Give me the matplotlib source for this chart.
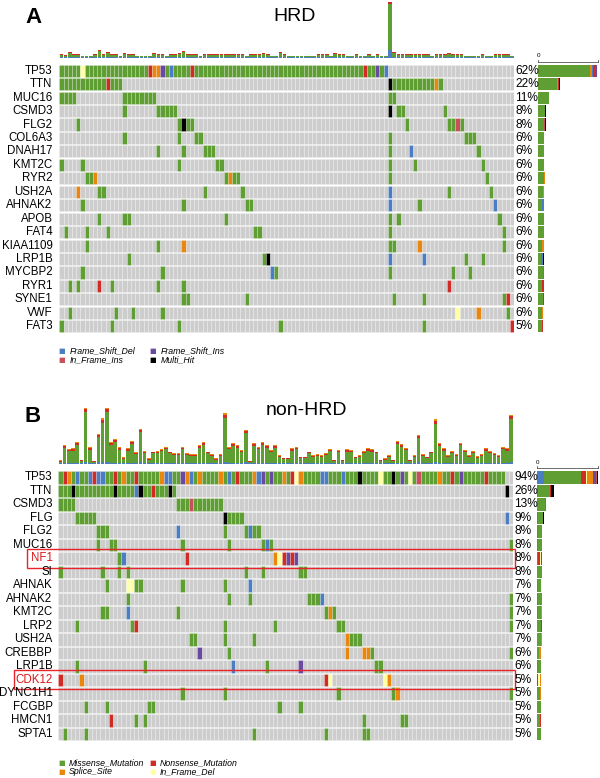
import matplotlib
matplotlib.use('Agg')
import matplotlib.pyplot as plt
import matplotlib.patches as mpatches
import numpy as np

plt.rcParams['font.family'] = ['Liberation Sans', 'DejaVu Sans']

# ---------------- DATA ----------------
# mutation codes: M Missense, N Nonsense, S Splice_Site, D In_Frame_Del,
# I In_Frame_Ins, F Frame_Shift_Del, P Frame_Shift_Ins, X Multi_Hit
n_cols_a = 108
genes_a = ["TP53", "TTN", "MUC16", "CSMD3", "FLG2", "COL6A3", "DNAH17", "KMT2C",
           "RYR2", "USH2A", "AHNAK2", "APOB", "FAT4", "KIAA1109", "LRP1B",
           "MYCBP2", "RYR1", "SYNE1", "VWF", "FAT3"]
pct_a = ["62%", "22%", "11%", "8%", "8%", "6%", "6%", "6%", "6%", "6%", "6%",
         "6%", "6%", "6%", "6%", "6%", "6%", "6%", "6%", "5%"]
rows_a = [
    "0-77M 5D 21N 22-23S 24P 26F 31N 72N 75P 77F",
    "0-14M 11N 78X 79-88M 89S 90M",
    "0-3M 15-22M 78-79M",
    "15M 23-27M 78X 80-81M 91M",
    "4M 28M 29X 30-31M 82M 92-93M 94I 95M",
    "15M 28M 32-33M 78M 96-98M",
    "23M 29M 34-36M 78M 83F 99M",
    "0M 5M 28M 37-38M 78M 84M 100M",
    "6-7M 8S 39M 40S 41-42M 78M 101M",
    "4S 9-10M 34M 43M 78F 92M 102M",
    "5M 29M 44-45M 78F 85M 103F",
    "9M 15-16M 39M 78M 80M 104M",
    "1M 6M 11M 46-47M 78M 105M",
    "6M 23M 29S 78-79M 85S 105M",
    "16M 48M 49X 78F 86F 96M 100M",
    "5M 24M 50F 51M 78M 93M 97M",
    "2M 4M 9N 12M 23M 29M 92N",
    "29-30M 44M 79M 86M 105M 106N",
    "2M 13M 17M 24M 94D 99S 106M",
    "0M 12M 28M 52M 86M 107N",
]
# per-sample mutation burden (top bars), panel A
tmb_a = [4, 2, 6, 3, 3, 2, 2, 2, 3, 8, 4, 6, 3, 3, 2, 5, 3, 3, 2, 2,
         2, 2, 5, 4, 3, 2, 4, 3, 5, 7, 3, 4, 3, 2, 3, 3, 4, 3, 3, 4,
         3, 3, 3, 3, 2, 3, 3, 3, 5, 3, 2, 2, 6, 3, 2, 2, 2, 2, 2, 2,
         2, 3, 3, 3, 2, 5, 3, 3, 2, 2, 3, 2, 2, 3, 2, 3, 2, 2, 56, 6,
         4, 3, 3, 3, 4, 4, 4, 3, 2, 3, 3, 4, 5, 4, 3, 3, 2, 2, 2, 2,
         3, 2, 2, 3, 3, 3, 3, 2]
tmb_a_cap = [1, 0.8, 1, 0.8, 0.8, 0.6, 0.6, 0.6, 0.8, 1.2, 1, 1, 0.8, 0.8, 0.6, 1, 0.8, 0.8, 0.6, 0.6,
             0.6, 0.6, 1, 1, 0.8, 0.6, 1, 0.8, 1, 1.2, 0.8, 1, 0.8, 0.6, 0.8, 0.8, 1, 0.8, 0.8, 1,
             0.8, 0.8, 0.8, 0.8, 0.6, 0.8, 0.8, 0.8, 1, 0.8, 0.6, 0.6, 1, 0.8, 0.6, 0.6, 0.6, 0.6, 0.6, 0.6,
             0.6, 0.8, 0.8, 0.8, 0.6, 1, 0.8, 0.8, 0.6, 0.6, 0.8, 0.6, 0.6, 0.8, 0.6, 0.8, 0.6, 0.6, 2.5, 1,
             1, 0.8, 0.8, 0.8, 1, 1, 1, 0.8, 0.6, 0.8, 0.8, 1, 1, 1, 0.8, 0.8, 0.6, 0.6, 0.6, 0.6,
             0.8, 0.6, 0.6, 0.8, 0.8, 0.8, 0.8, 0.6]
tmb_a_base = [0.3, 0.2, 0.3, 0.2, 0.2, 0.2, 0.2, 0.2, 0.2, 0.3, 0.2, 0.3, 0.2, 0.2, 0.2, 0.3, 0.2, 0.2, 0.2, 0.2,
              0.2, 0.2, 0.3, 0.2, 0.2, 0.2, 0.2, 0.2, 0.3, 0.3, 0.2, 0.2, 0.2, 0.2, 0.2, 0.2, 0.2, 0.2, 0.2, 0.2,
              0.2, 0.2, 0.2, 0.2, 0.2, 0.2, 0.2, 0.2, 0.3, 0.2, 0.2, 0.2, 0.3, 0.2, 0.2, 0.2, 0.2, 0.2, 0.2, 0.2,
              0.2, 0.2, 0.2, 0.2, 0.2, 0.3, 0.2, 0.2, 0.2, 0.2, 0.2, 0.2, 0.2, 0.2, 0.2, 0.2, 0.2, 0.2, 8, 0.3,
              0.2, 0.2, 0.2, 0.2, 0.2, 0.2, 0.2, 0.2, 0.2, 0.2, 0.2, 0.2, 0.3, 0.2, 0.2, 0.2, 0.2, 0.2, 0.2, 0.2,
              0.2, 0.2, 0.2, 0.2, 0.2, 0.2, 0.2, 0.2]

n_cols_b = 108
genes_b = ["TP53", "TTN", "CSMD3", "FLG", "FLG2", "MUC16", "NF1", "SI", "AHNAK",
           "AHNAK2", "KMT2C", "LRP2", "USH2A", "CREBBP", "LRP1B", "CDK12",
           "DYNC1H1", "FCGBP", "HMCN1", "SPTA1"]
pct_b = ["94%", "26%", "13%", "9%", "8%", "8%", "8%", "8%", "7%", "7%", "7%",
         "7%", "7%", "6%", "6%", "5%", "5%", "5%", "5%", "5%"]
rows_b = [
    "0-105M 1N 2S 4F 7F 8N 9-10F 13N 15S 18N 24S 25-26F 29P 30S 31F 33S 38S 40F 42N "
    "46S 47F 48P 50P 53S 55N 56D 57S 62-63F 67F 71X 76D 79X 81P 83D 85I 90S 93N 95P 101N",
    "0-27M 3X 13X 18F 19X 22N 26X 106X",
    "0-3M 28-38M 31I",
    "4-8M 39X 40-43M 106F",
    "9-11M 28F 39M 44M 45F 46-47M",
    "9M 12-13M 29M 40M 48M 49F 50M 107M",
    "14M 15F 30N 51S 52D 53N 54P 55N 56P",
    "0M 10M 14M 16M 44M 48M 57-58M",
    "11M 16-17D 18-19M 29M 39M 45F",
    "16M 40M 45M 59-61M 62F 107M",
    "10-11M 16F 28M 63M 64S 65M 107M",
    "4M 17M 18N 39M 51M 66-67M 107M",
    "31-32M 39M 46M 68S 69-71M",
    "33P 40M 68S 72-73S 74M 107M",
    "4M 20M 41F 49M 57P 75-76M",
    "0N 5S 63N 64D 77D 78S",
    "29M 39M 66M 79M 80S 107M",
    "6M 11M 21-22M 52M 57M",
    "12N 18M 20M 72M 81-82M",
    "1M 6M 46M 63M 72-73M",
]
tmb_b = [12, 57, 45, 47, 67, 12, 167, 50, 10, 90, 137, 168, 67, 75, 50, 20, 47, 68, 35, 105,
         40, 17, 37, 40, 45, 52, 37, 32, 32, 52, 32, 30, 30, 57, 67, 37, 30, 17, 30, 152,
         52, 62, 57, 42, 102, 10, 62, 52, 67, 57, 42, 57, 27, 19, 19, 47, 52, 22, 22, 37,
         27, 30, 27, 32, 45, 12, 42, 12, 44, 42, 22, 27, 40, 47, 44, 37, 12, 17, 27, 12,
         69, 59, 49, 12, 27, 87, 30, 22, 37, 134, 62, 47, 27, 40, 30, 64, 42, 27, 40, 24,
         30, 47, 39, 32, 27, 52, 47, 147]
tmb_b_nons = [3, 5, 4, 5, 6, 2, 9, 4, 2, 7, 9, 10, 6, 6, 4, 2, 4, 6, 3, 7,
              4, 2, 3, 4, 4, 5, 3, 3, 3, 4, 3, 3, 3, 5, 6, 3, 3, 2, 3, 9,
              4, 5, 5, 4, 7, 2, 5, 4, 6, 5, 4, 5, 3, 2, 2, 4, 4, 2, 2, 3,
              3, 3, 3, 3, 4, 2, 4, 2, 4, 4, 2, 3, 4, 4, 4, 3, 2, 2, 3, 2,
              6, 5, 4, 2, 3, 7, 3, 2, 3, 9, 5, 4, 3, 4, 3, 5, 4, 3, 4, 3,
              3, 5, 4, 3, 3, 4, 4, 9]
tmb_b_spl = [2, 3, 3, 3, 3, 1, 3, 3, 1, 3, 4, 3, 3, 3, 3, 2, 3, 3, 2, 3,
             3, 2, 2, 3, 3, 3, 2, 2, 2, 3, 2, 2, 2, 3, 3, 2, 2, 2, 2, 4,
             3, 3, 3, 3, 3, 1, 3, 3, 3, 3, 3, 3, 2, 2, 2, 3, 3, 2, 2, 2,
             2, 2, 2, 2, 3, 1, 3, 1, 3, 3, 2, 2, 3, 3, 3, 2, 1, 2, 2, 1,
             3, 3, 3, 1, 2, 3, 2, 2, 2, 4, 3, 3, 2, 3, 2, 3, 3, 2, 3, 2,
             2, 3, 3, 2, 2, 3, 3, 4]
tmb_b_fs = [3, 4, 4, 4, 4, 3, 5, 4, 3, 5, 5, 6, 4, 4, 4, 3, 4, 4, 3, 5,
            4, 3, 4, 4, 4, 4, 4, 3, 3, 4, 3, 3, 3, 4, 4, 3, 3, 3, 3, 5,
            4, 4, 4, 4, 5, 3, 4, 4, 4, 4, 4, 4, 3, 3, 3, 4, 4, 3, 3, 3,
            3, 3, 3, 3, 4, 3, 4, 3, 4, 4, 3, 3, 4, 4, 4, 3, 3, 3, 3, 3,
            4, 4, 4, 3, 3, 5, 3, 3, 3, 5, 4, 4, 3, 4, 3, 4, 4, 3, 4, 3,
            3, 4, 4, 3, 3, 4, 4, 6]

legend_a = [("F", "Frame_Shift_Del"), ("P", "Frame_Shift_Ins"),
            ("I", "In_Frame_Ins"), ("X", "Multi_Hit")]
legend_b = [("M", "Missense_Mutation"), ("N", "Nonsense_Mutation"),
            ("S", "Splice_Site"), ("D", "In_Frame_Del")]

# ---------------- STYLE ----------------
COL = {"M": "#5E9E32", "N": "#D12B25", "S": "#E9860E", "D": "#FFFFA6",
       "I": "#C6505C", "F": "#4A7DC4", "P": "#6A4AA0", "X": "#000000"}
GRAY = "#CDCDCD"
W, H = 600, 778

fig = plt.figure(figsize=(6, 7.78), dpi=100)


def add_ax(x0, y0, x1, y1):
    ax = fig.add_axes([x0 / W, 1 - y1 / H, (x1 - x0) / W, (y1 - y0) / H])
    ax.axis('off')
    return ax


def ft(x, y, s, **kw):
    return fig.text(x / W, 1 - y / H, s, **kw)


def parse(spec, n):
    arr = [''] * n
    for tok in spec.split():
        code, rng = tok[-1], tok[:-1]
        if '-' in rng:
            a, b = map(int, rng.split('-'))
        else:
            a = b = int(rng)
        for c in range(a, b + 1):
            arr[c] = code
    return arr


def panel(genes, pct, rows, n, grid_box, top_box, top_ylim, tmb, tmb_layers,
          right_box, right_max, order, label_x, pct_x):
    gx0, gy0, gx1, gy1 = grid_box
    nr = len(genes)
    rh = (gy1 - gy0) / nr
    mats = [parse(r, n) for r in rows]
    # grid
    ax = add_ax(*grid_box)
    ax.set_xlim(0, n)
    ax.set_ylim(nr, 0)
    for i, arr in enumerate(mats):
        colors = [COL[c] if c else GRAY for c in arr]
        ax.bar(np.arange(n), 0.9, bottom=i + 0.05, width=1, align='edge',
               color=colors, edgecolor=(1, 1, 1, 0.35), linewidth=0.4)
    # top bars
    axt = add_ax(*top_box)
    axt.set_xlim(0, n)
    axt.set_ylim(0, top_ylim)
    x = np.arange(n) + 0.5
    bottom = np.zeros(n)
    total = np.array(tmb, float)
    layers = tmb_layers
    base = np.array(layers[0][1], float)
    axt.bar(x, base, width=0.85, bottom=bottom, color=layers[0][0], linewidth=0)
    bottom = bottom + base
    caps = [np.array(v, float) for _, v in layers[1:]]
    green = total - base - sum(caps)
    axt.bar(x, green, width=0.85, bottom=bottom, color=COL["M"], linewidth=0)
    bottom = bottom + green
    for (c, _), v in zip(layers[1:], caps):
        axt.bar(x, v, width=0.85, bottom=bottom, color=c, linewidth=0)
        bottom = bottom + v
    # right bars
    rx0, ry0, rx1, ry1 = right_box
    axr = add_ax(*right_box)
    axr.set_xlim(0, right_max)
    axr.set_ylim(nr, 0)
    for i, arr in enumerate(mats):
        left = 0
        for code in order:
            cnt = arr.count(code)
            if cnt:
                axr.barh(i + 0.5, cnt, height=0.9, left=left, color=COL[code], linewidth=0)
                left += cnt
    # right axis line
    ly = ry0 - 2.4
    fig.add_artist(plt.Line2D([rx0 / W, rx1 / W], [1 - ly / H, 1 - ly / H],
                              color='#555555', lw=0.6))
    for xx in (rx0, rx1):
        fig.add_artist(plt.Line2D([xx / W, xx / W], [1 - ly / H, 1 - (ly - 2) / H],
                                  color='#555555', lw=0.6))
    ft(rx0, ly - 3.5, "0", fontsize=4.5, ha='center', va='bottom')
    # labels
    for i, g in enumerate(genes):
        yc = gy0 + rh * (i + 0.5)
        ft(label_x, yc, g, fontsize=8.3, ha='right', va='center',
           color=('#D7191C' if g in ("NF1", "CDK12") else 'black'))
        ft(pct_x, yc, pct[i], fontsize=8.6, ha='left', va='center')
    return rh


rh_a = panel(genes_a, pct_a, rows_a, n_cols_a,
             (59.3, 64, 514.3, 333), (59.3, 0, 514.3, 57.5), 57.5, tmb_a,
             [(COL["F"], tmb_a_base), (COL["N"], tmb_a_cap)],
             (538.3, 64, 598.3, 333), 78.7, "MSFNIPDX", 52.5, 515.5)

rh_b = panel(genes_b, pct_b, rows_b, n_cols_b,
             (58.3, 470.7, 513.3, 740.7), (58.3, 405, 513.3, 464), 177, tmb_b,
             [(COL["F"], tmb_b_fs), (COL["N"], tmb_b_nons), (COL["S"], tmb_b_spl)],
             (537.3, 470.7, 598.3, 740.7), 107, "FMNDSPIX", 52.5, 514.5)

# titles
ft(25, 23, "A", fontsize=16, fontweight='bold', ha='left', va='baseline')
ft(295, 21, "HRD", fontsize=14, ha='center', va='baseline')
ft(25, 422, "B", fontsize=16, fontweight='bold', ha='left', va='baseline')
ft(306, 415, "non-HRD", fontsize=14, ha='center', va='baseline')

# red boxes
for (bx0, by0, bx1, by1) in [(26.7, 548.5, 515, 567.5), (14, 669.5, 515, 689)]:
    fig.add_artist(mpatches.Rectangle((bx0 / W, 1 - by1 / H), (bx1 - bx0) / W, (by1 - by0) / H,
                                      transform=fig.transFigure, fill=False,
                                      edgecolor='#E8242A', lw=1.0))


def legend(items, y_rows, xs_sq, xs_tx):
    for k, (code, name) in enumerate(items):
        r, c = divmod(k, 2)
        y = y_rows[r]
        ft(xs_sq[c], y, "\u25A0", fontsize=5, color=COL[code], ha='center', va='center',
           family='DejaVu Sans')
        ft(xs_tx[c], y, name, fontsize=6.3, style='italic', ha='left', va='center')


legend(legend_a, [350.7, 359.5], [61.5, 152.5], [69.5, 160.5])
legend(legend_b, [762.7, 772], [61.5, 152.5], [69, 160])

fig.savefig("out.png", dpi=100)
